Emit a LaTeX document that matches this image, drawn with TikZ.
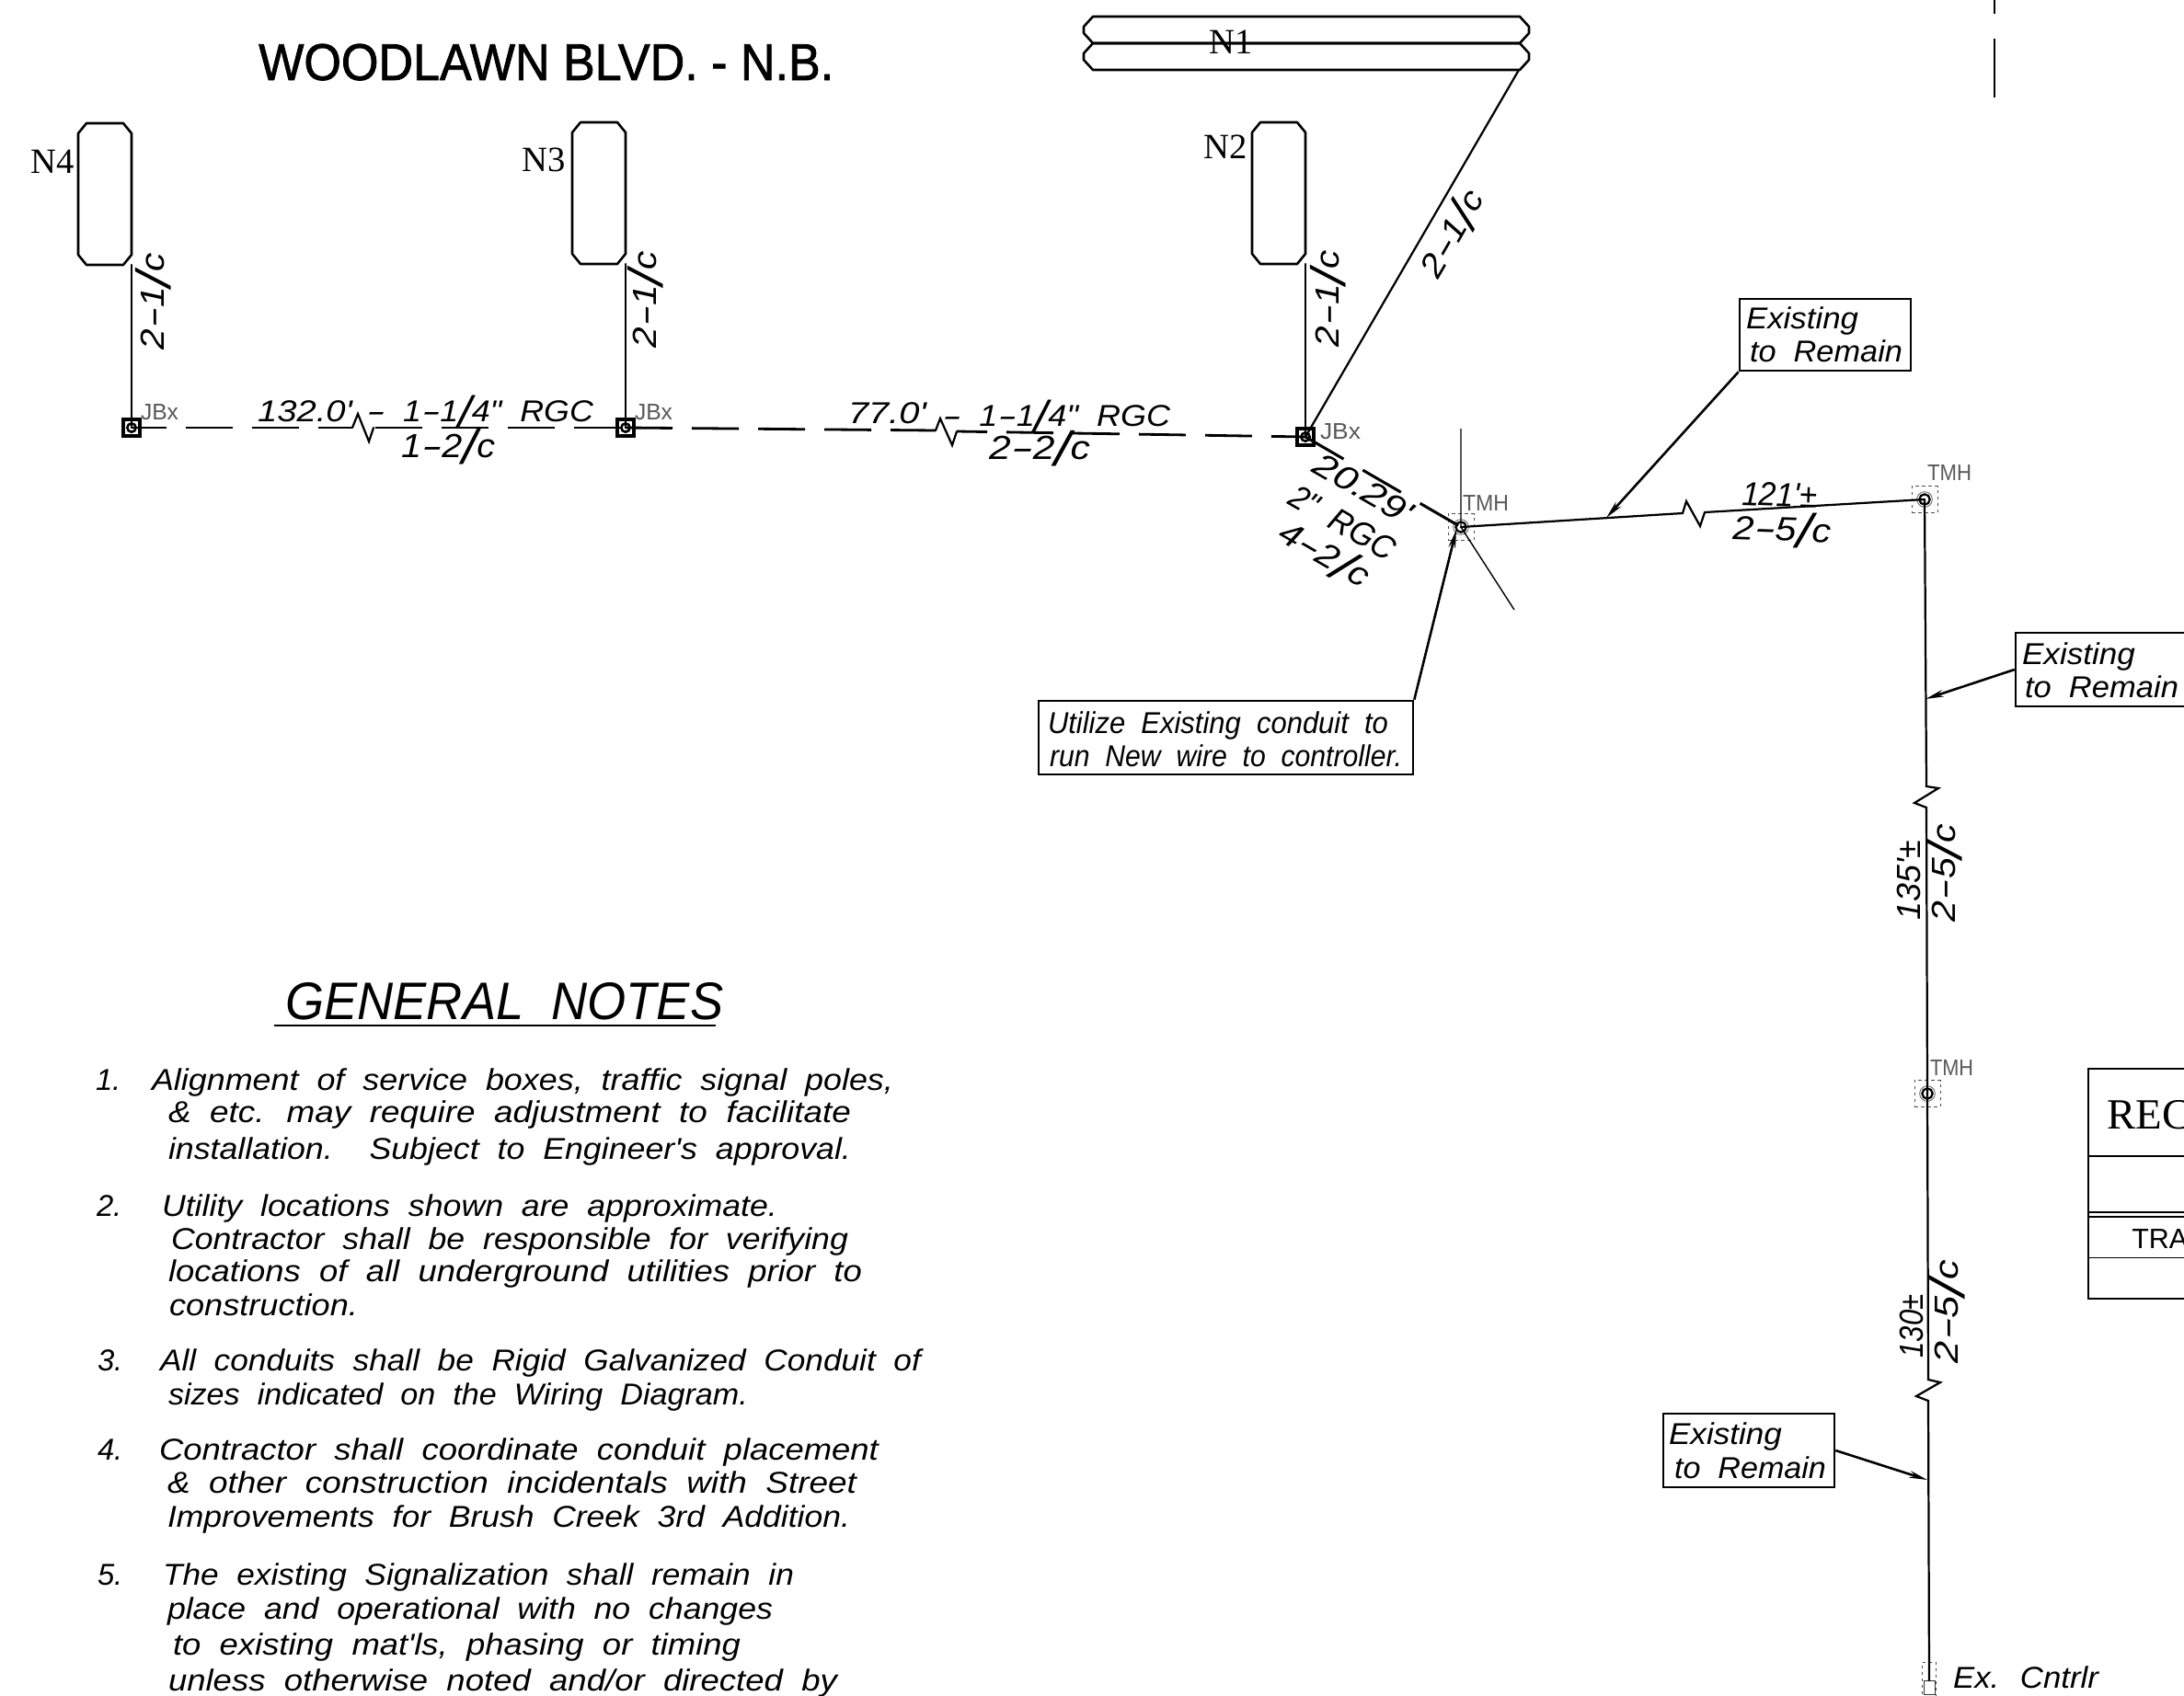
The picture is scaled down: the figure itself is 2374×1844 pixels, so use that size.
\documentclass[tikz,border=0pt]{standalone}
\usepackage{fontspec}
\usepackage{graphicx}
\usetikzlibrary{arrows.meta}
\setmainfont{Liberation Sans}
\newfontfamily\cadbase[WordSpace=2]{Liberation Sans}
\newfontfamily\serifbase{Liberation Serif}
\newfontfamily\titlebase[FakeBold=1.5]{Liberation Sans}
\newcommand\cad{\cadbase\itshape\fontsize{28}{32}\selectfont}
\newcommand\cadb{\cadbase\itshape\fontsize{31}{34}\selectfont}
\newlength\pxu
\setlength\pxu{0.03cm}
\newcommand\fitw[2]{\resizebox{#1\pxu}{\height}{#2}}
\newcommand\bigsl{\raisebox{-.2em}{\scalebox{1.45}{/}}}
\newcommand\hy{\scalebox{1.7}[1]{-}}
% draws a chamfered outline round a named node
\newcommand\chamf[3]{\draw[line width=2.2pt,line join=round] ([xshift=#2cm]#1.north west) -- ([xshift=-#2cm]#1.north east) -- ([yshift=-#3cm]#1.north east) -- ([yshift=#3cm]#1.south east) -- ([xshift=-#2cm]#1.south east) -- ([xshift=#2cm]#1.south west) -- ([yshift=#3cm]#1.south west) -- ([yshift=-#3cm]#1.north west) -- cycle;}
\tikzset{
  wire/.style={line width=1.9pt,line cap=round,line join=miter},
  heavy/.style={line width=2.4pt,line cap=butt},
  leader/.style={line width=2.2pt,-{Stealth[length=17pt,width=6.5pt]}},
  lbl/.style={inner sep=0pt,outer sep=0pt,font=\cad},
  lblb/.style={inner sep=0pt,outer sep=0pt,font=\cadb},
  ser/.style={inner sep=0pt,outer sep=0pt,font=\serifbase\fontsize{33}{36}\selectfont},
  small/.style={inner sep=0pt,outer sep=0pt,text=black!65,font=\cadbase\fontsize{21}{24}\selectfont},
  pole/.style={minimum width=1.74cm,minimum height=4.62cm,inner sep=0pt,outer sep=0pt},
  lobe/.style={minimum width=14.52cm,minimum height=.87cm,inner sep=0pt,outer sep=0pt},
  jbx/.style={draw,line width=2.6pt,minimum size=.54cm,inner sep=0pt,path picture={\draw[line width=2.2pt] (path picture bounding box.center) circle (.14cm);}},
  tmh/.style={draw=black!70,dashed,line width=.5pt,minimum width=.84cm,minimum height=.87cm,inner sep=0pt,path picture={\draw[solid,black,line width=1.9pt] (path picture bounding box.center) circle (.17cm);\draw[solid,black!70,line width=.6pt] (path picture bounding box.center) circle (.25cm);}},
  callout/.style={draw,line width=2.2pt,inner sep=0pt},
}
\begin{document}
\begin{tikzpicture}[x=0.03cm,y=-0.03cm]
\useasboundingbox (0,0) rectangle (2374,1844);
\fill[white] (0,0) rectangle (2374,1844);

% title
\node[inner sep=0pt,anchor=base west,font=\titlebase\fontsize{48}{52}\selectfont] (title) at (281,87) {\fitw{625}{WOODLAWN BLVD. - N.B.}};

% loops
\node[pole] (n4) at (114,211) {};
\node[pole] (n3) at (651,210) {};
\node[pole] (n2) at (1390,210) {};
\node[lobe] (n1a) at (1420,32.5) {};
\node[lobe] (n1b) at (1420,61.5) {};
\chamf{n4}{.27}{.33}
\chamf{n3}{.27}{.33}
\chamf{n2}{.27}{.33}
\chamf{n1a}{.3}{.33}
\chamf{n1b}{.3}{.33}
\node[ser,anchor=base east] (n4l) at (81,188) {N4};
\node[ser,anchor=base east] (n3l) at (615,186) {N3};
\node[ser,anchor=base east] (n2l) at (1356,172) {N2};
\node[ser,anchor=base] (n1l) at (1338,58) {N1};

% junction boxes
\node[jbx] (jb4) at (143,465) {};
\node[jbx] (jb3) at (680,465) {};
\node[jbx] (jb2) at (1419,475) {};
\node[small,anchor=base west] (jb4l) at (153,456) {\fitw{41}{JBx}};
\node[small,anchor=base west] (jb3l) at (690,456) {\fitw{41}{JBx}};
\node[small,anchor=base west] (jb2l) at (1435,477) {\fitw{44}{JBx}};

% manholes
\node[tmh] (tmh1) at (1588,573) {};
\node[tmh] (tmh2) at (2092,543) {};
\node[tmh] (tmh3) at (2095,1189) {};
\node[small,anchor=base west] (t1l) at (1590,555) {\fitw{50}{TMH}};
\node[small,anchor=base west] (t2l) at (2095,522) {\fitw{48}{TMH}};
\node[small,anchor=base west] (t3l) at (2098,1169) {\fitw{47}{TMH}};

% controller
\node[draw=black!70,dashed,line width=.5pt,minimum width=.45cm,minimum height=1.11cm,inner sep=0pt] (ctrl) at (2097,1826) {};
\node[draw=black!80,line width=.7pt,minimum width=.36cm,minimum height=.45cm,inner sep=0pt] (ctrlb) at (2097,1835) {};
\node[lbl,anchor=base west] (ctrll) at (2123,1835) {\fitw{158}{Ex. Cntrlr}};

% feeder wires to loops
\draw[wire] (jb4.center) -- (jb4.center |- n4.south);
\draw[wire] (jb3.center) -- (jb3.center |- n3.south);
\draw[wire] (jb2.center) -- (jb2.center |- n2.south);
\coordinate (n1c) at (1651,76);
\draw[wire] (jb2.center) -- (n1c);

% dashed runs
\coordinate (za1) at (383,465);
\coordinate (za2) at (389,450);
\coordinate (za3) at (401,480);
\coordinate (za4) at (406,465);
\coordinate (za5) at (408,465);
\draw[heavy,dash pattern=on 1.53cm off .63cm,dash phase=.39cm] (jb4.center) -- (za1);
\draw[wire] (za1) -- (za2) -- (za3) -- (za4);
\draw[heavy,dash pattern=on 1.53cm off .63cm] (za5) -- (jb3.center);
\coordinate (zb1) at (1017,468);
\coordinate (zb2) at (1022,455);
\coordinate (zb3) at (1035,484);
\coordinate (zb4) at (1040,469);
\draw[heavy,dash pattern=on 1.53cm off .63cm] (jb3.center) -- (zb1);
\draw[wire] (zb1) -- (zb2) -- (zb3) -- (zb4);
\draw[heavy,dash pattern=on 1.53cm off .63cm,dash phase=.54cm] (zb4) -- (jb2.center);
\draw[line width=2.6pt,dash pattern=on 1.44cm off .72cm] (jb2.center) -- (tmh1.center);

% labels on dashed runs
\node[lbl,anchor=base west] (a1) at (280,458) {\fitw{103}{132.0'}};
\node[lbl,anchor=base west] (a2) at (398,458) {\fitw{247}{\hy{} 1\hy 1\bigsl 4" RGC}};
\node[lblb,anchor=base west] (a3) at (436,497) {\fitw{102}{1\hy 2\bigsl c}};
\node[lbl,anchor=base west] (b1) at (922,460) {\fitw{85}{77.0'}};
\node[lbl,anchor=base west] (b2) at (1024,463) {\fitw{248}{\hy{} 1\hy 1\bigsl 4" RGC}};
\node[lblb,anchor=base west] (b3) at (1075,499) {\fitw{110}{2\hy 2\bigsl c}};

% rotated labels
\node[lblb,anchor=base,rotate=90] (c4) at (178,328) {\fitw{105}{2\hy 1\bigsl c}};
\node[lblb,anchor=base,rotate=90] (c3) at (713,326) {\fitw{105}{2\hy 1\bigsl c}};
\node[lblb,anchor=base,rotate=90] (c2) at (1455,325) {\fitw{105}{2\hy 1\bigsl c}};
\node[lblb,anchor=base,rotate=60] (c1) at (1589,260) {\fitw{102}{2\hy 1\bigsl c}};
\node[lblb,anchor=base,rotate=-30] (d1) at (1476,542) {\fitw{118}{20.29'}};
\node[lblb,anchor=base,rotate=-30] (d2) at (1453,579) {\fitw{127}{2" RGC}};
\node[lblb,anchor=base,rotate=-30] (d3) at (1434,613) {\fitw{107}{4\hy 2\bigsl c}};

% existing conduit
\coordinate (tp) at (1588,466);
\coordinate (tq) at (1646,663);
\draw[line width=1.2pt] (tp) -- (tmh1.center) -- (tq);
\coordinate (zc1) at (1829,558);
\coordinate (zc2) at (1833,545);
\coordinate (zc3) at (1848,572);
\coordinate (zc4) at (1853,557);
\draw[wire] (tmh1.center) -- (zc1) -- (zc2) -- (zc3) -- (zc4) -- (tmh2.center);
\node[lblb,anchor=base west,rotate=-2] (e1) at (1893,549) {\fitw{82}{121'±}};
\node[lblb,anchor=base west,rotate=-2] (e2) at (1883,586) {\fitw{107}{2\hy 5\bigsl c}};

\coordinate (zd1) at (2094,855);
\coordinate (zd2) at (2107,857);
\coordinate (zd3) at (2081,873);
\coordinate (zd4) at (2094,878);
\draw[wire] (tmh2.center) -- (zd1) -- (zd2) -- (zd3) -- (zd4) -- (tmh3.center);
\coordinate (ze1) at (2096,1500);
\coordinate (ze2) at (2109,1503);
\coordinate (ze3) at (2083,1518);
\coordinate (ze4) at (2096,1523);
\draw[wire] (tmh3.center) -- (ze1) -- (ze2) -- (ze3) -- (ze4) -- (ctrlb.north);
\node[lblb,anchor=base,rotate=90] (f1) at (2087,957) {\fitw{86}{135'±}};
\node[lblb,anchor=base,rotate=90] (f2) at (2125,949) {\fitw{106}{2\hy 5\bigsl c}};
\node[lblb,anchor=base,rotate=90] (g1) at (2090,1442) {\fitw{69}{130±}};
\node[lblb,anchor=base,rotate=90] (g2) at (2128,1426) {\fitw{112}{2\hy 5\bigsl c}};

% callouts
\node[callout,minimum width=5.58cm,minimum height=2.34cm] (exa) at (1984,364) {};
\node[lbl,anchor=base west] (exa1) at (1898,357) {\fitw{122}{Existing}};
\node[lbl,anchor=base west] (exa2) at (1902,393) {\fitw{166}{to Remain}};
\coordinate (ta) at (1746,563);
\draw[leader] (exa.south west) -- (ta);

\node[callout,minimum width=5.58cm,minimum height=2.4cm] (exb) at (2284,728) {};
\node[lbl,anchor=base west] (exb1) at (2198,722) {\fitw{123}{Existing}};
\node[lbl,anchor=base west] (exb2) at (2201,758) {\fitw{167}{to Remain}};
\coordinate (tb) at (2093,760);
\draw[leader] (exb.west) -- (tb);

\node[callout,minimum width=5.58cm,minimum height=2.4cm] (exc) at (1901,1577) {};
\node[lbl,anchor=base west] (exc1) at (1814,1570) {\fitw{123}{Existing}};
\node[lbl,anchor=base west] (exc2) at (1820,1607) {\fitw{165}{to Remain}};
\coordinate (tc) at (2095,1609);
\draw[leader] (exc.east) -- (tc);

\node[callout,minimum width=12.21cm,minimum height=2.4cm] (util) at (1332.5,802) {};
\node[lbl,anchor=base west] (util1) at (1139,797) {\fitw{370}{Utilize Existing conduit to}};
\node[lbl,anchor=base west] (util2) at (1141,833) {\fitw{383}{run New wire to controller.}};
\coordinate (td) at (1583,576);
\draw[leader] (util.north east) -- (td);

% sheet fragments at right
\coordinate (s1) at (2168,0);
\coordinate (s2) at (2168,15);
\coordinate (s3) at (2168,42);
\coordinate (s4) at (2168,106);
\draw[line width=1.6pt] (s1) -- (s2) (s3) -- (s4);

\coordinate (r1) at (2374,1162);
\coordinate (r2) at (2270,1162);
\coordinate (r3) at (2270,1412);
\coordinate (r4) at (2374,1412);
\draw[line width=2.2pt] (r1) -- (r2) -- (r3) -- (r4);
\coordinate (r5) at (2270,1257);
\coordinate (r6) at (2374,1257);
\draw[line width=1.6pt] (r5) -- (r6);
\coordinate (r7) at (2270,1318);
\coordinate (r8) at (2374,1318);
\coordinate (r9) at (2270,1323);
\coordinate (r10) at (2374,1323);
\draw[line width=1.4pt] (r7) -- (r8) (r9) -- (r10);
\coordinate (r11) at (2270,1367);
\coordinate (r12) at (2374,1367);
\draw[line width=.6pt] (r11) -- (r12);
\node[inner sep=0pt,anchor=base west,font=\serifbase\fontsize{40}{44}\selectfont] (rec) at (2290,1227) {REC};
\node[inner sep=0pt,anchor=base west,font=\rmfamily\fontsize{26}{30}\selectfont] (tra) at (2317,1357) {TRA};

% general notes
\node[inner sep=0pt,anchor=base west,font=\cadbase\itshape\fontsize{49}{54}\selectfont] (gn) at (310,1108) {\fitw{476}{GENERAL NOTES}};
\coordinate (u1) at (298,1115);
\coordinate (u2) at (778,1115);
\draw[line width=2.4pt] (u1) -- (u2);

\node[lbl,anchor=base west] (x1) at (104,1185) {1.};
\node[lbl,anchor=base west] (l11) at (165,1185) {\fitw{806}{Alignment of service boxes, traffic signal poles,}};
\node[lbl,anchor=base west] (l12) at (183,1220) {\fitw{742}{\& etc. may require adjustment to facilitate}};
\node[lbl,anchor=base west] (l13) at (183,1260) {\fitw{742}{installation.\ \ Subject to Engineer's approval.}};
\node[lbl,anchor=base west] (x2) at (105,1322) {2.};
\node[lbl,anchor=base west] (l21) at (176,1322) {\fitw{669}{Utility locations shown are approximate.}};
\node[lbl,anchor=base west] (l22) at (186,1358) {\fitw{736}{Contractor shall be responsible for verifying}};
\node[lbl,anchor=base west] (l23) at (183,1393) {\fitw{754}{locations of all underground utilities prior to}};
\node[lbl,anchor=base west] (l24) at (184,1430) {\fitw{205}{construction.}};
\node[lbl,anchor=base west] (x3) at (106,1490) {3.};
\node[lbl,anchor=base west] (l31) at (174,1490) {\fitw{827}{All conduits shall be Rigid Galvanized Conduit of}};
\node[lbl,anchor=base west] (l32) at (183,1527) {\fitw{630}{sizes indicated on the Wiring Diagram.}};
\node[lbl,anchor=base west] (x4) at (106,1587) {4.};
\node[lbl,anchor=base west] (l41) at (173,1587) {\fitw{782}{Contractor shall coordinate conduit placement}};
\node[lbl,anchor=base west] (l42) at (182,1623) {\fitw{749}{\& other construction incidentals with Street}};
\node[lbl,anchor=base west] (l43) at (182,1660) {\fitw{742}{Improvements for Brush Creek 3rd Addition.}};
\node[lbl,anchor=base west] (x5) at (106,1723) {5.};
\node[lbl,anchor=base west] (l51) at (177,1723) {\fitw{686}{The existing Signalization shall remain in}};
\node[lbl,anchor=base west] (l52) at (182,1760) {\fitw{658}{place and operational with no changes}};
\node[lbl,anchor=base west] (l53) at (188,1799) {\fitw{617}{to existing mat'ls, phasing or timing}};
\node[lbl,anchor=base west] (l54) at (183,1838) {\fitw{727}{unless otherwise noted and/or directed by}};
\end{tikzpicture}
\end{document}
